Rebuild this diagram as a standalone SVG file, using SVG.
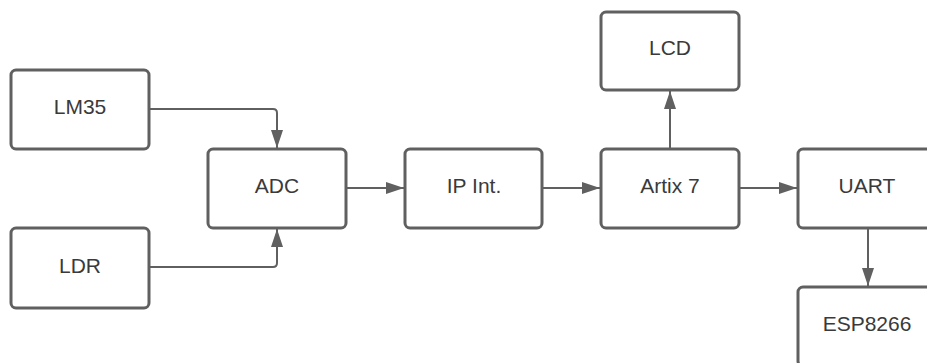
<svg xmlns="http://www.w3.org/2000/svg" width="927" height="363" viewBox="0 0 927 363">
<style>
.box{fill:#ffffff;stroke:#606060;stroke-width:3}
.lbl{font-family:"Liberation Sans",Arial,sans-serif;font-size:21px;fill:#3a3a3a;text-anchor:middle}
.edge{fill:none;stroke:#606060;stroke-width:2}
</style>
<defs>
<marker id="arr" viewBox="0 0 18 12" refX="18" refY="6" markerWidth="18" markerHeight="12" markerUnits="userSpaceOnUse" orient="auto">
<path d="M0,0 L18,6 L0,12 Z" fill="#606060"/>
</marker>
</defs>
<rect width="927" height="363" fill="#ffffff"/>
<g id="connectors">
<path class="edge" d="M149,109 H273 Q277,109 277,113 V148" marker-end="url(#arr)"/>
<path class="edge" d="M149,267 H273 Q277,267 277,263 V229" marker-end="url(#arr)"/>
<path class="edge" d="M346,188 H404" marker-end="url(#arr)"/>
<path class="edge" d="M542,188 H600" marker-end="url(#arr)"/>
<path class="edge" d="M670,149 V91" marker-end="url(#arr)"/>
<path class="edge" d="M739,188 H797" marker-end="url(#arr)"/>
<path class="edge" d="M868,229 V286" marker-end="url(#arr)"/>
</g>
<g id="lm35"><rect class="box" x="11" y="70" width="138" height="79" rx="5"/><text class="lbl" x="80" y="114">LM35</text></g>
<g id="ldr"><rect class="box" x="11" y="228" width="138" height="80" rx="5"/><text class="lbl" x="80" y="273">LDR</text></g>
<g id="adc"><rect class="box" x="208" y="149" width="138" height="79" rx="5"/><text class="lbl" x="277" y="193">ADC</text></g>
<g id="ipint"><rect class="box" x="405" y="149" width="137" height="79" rx="5"/><text class="lbl" x="474" y="193">IP Int.</text></g>
<g id="artix7"><rect class="box" x="601" y="149" width="138" height="79" rx="5"/><text class="lbl" x="670" y="193">Artix 7</text></g>
<g id="lcd"><rect class="box" x="601" y="12" width="138" height="78" rx="5"/><text class="lbl" x="670" y="55">LCD</text></g>
<g id="uart"><rect class="box" x="798" y="149" width="138" height="79" rx="5"/><text class="lbl" x="867" y="193">UART</text></g>
<g id="esp8266"><rect class="box" x="798" y="287" width="138" height="79" rx="5"/><text class="lbl" x="867" y="331">ESP8266</text></g>
</svg>
